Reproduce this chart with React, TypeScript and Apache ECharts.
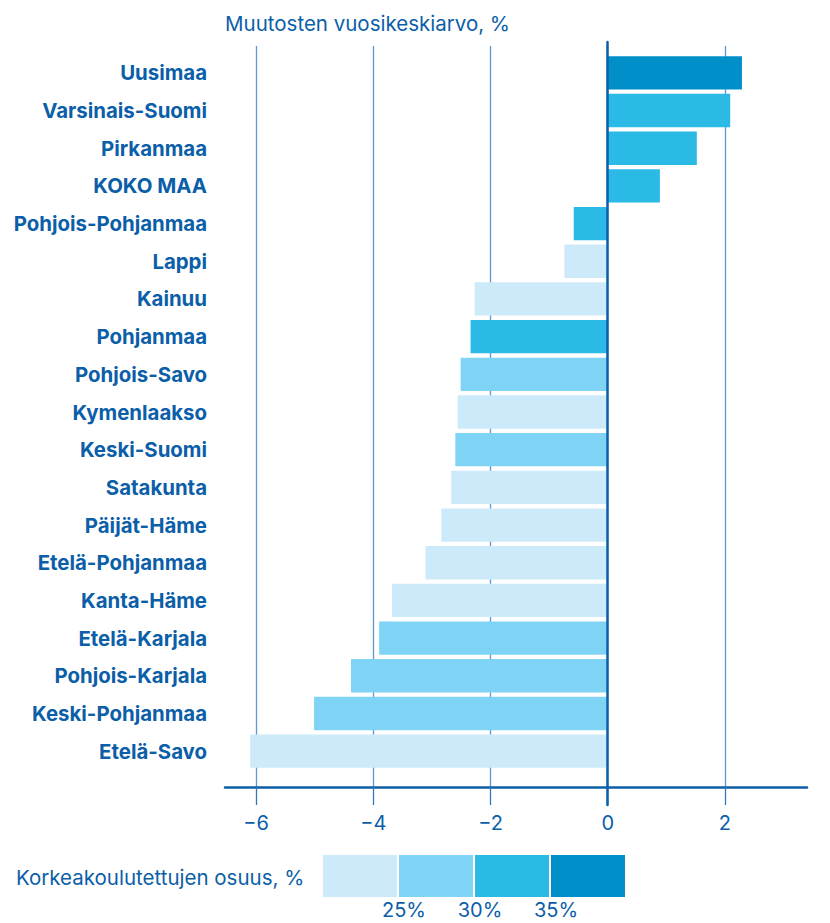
import React, { useEffect, useRef } from "react";
import * as echarts from "echarts";

const regions = [
  "Uusimaa", "Varsinais-Suomi", "Pirkanmaa", "KOKO MAA", "Pohjois-Pohjanmaa", "Lappi",
  "Kainuu", "Pohjanmaa", "Pohjois-Savo", "Kymenlaakso", "Keski-Suomi", "Satakunta",
  "Päijät-Häme", "Etelä-Pohjanmaa", "Kanta-Häme", "Etelä-Karjala", "Pohjois-Karjala",
  "Keski-Pohjanmaa", "Etelä-Savo",
];
const changes = [
  2.29, 2.09, 1.52, 0.89, -0.58, -0.74, -2.27, -2.34, -2.51, -2.56, -2.6, -2.67,
  -2.84, -3.11, -3.68, -3.9, -4.38, -5.01, -6.1,
];
// education class index: 0 = <25%, 1 = 25–30%, 2 = 30–35%, 3 = >35%
const eduClass = [3, 2, 2, 2, 2, 0, 0, 2, 1, 0, 1, 0, 0, 0, 0, 1, 1, 1, 0];
const classColors = ["#cdeafa", "#7fd3f5", "#2bbae6", "#008fc9"];
const legendLabels = ["25%", "30%", "35%"];
const xTicks = [-6, -4, -2, 0, 2];

const TEXT = "#0b5ea8";
const FONT = "Inter, 'Noto Sans', sans-serif";

export default function App() {
  const ref = useRef<HTMLDivElement>(null);
  useEffect(() => {
    document.body.style.margin = "0";
    const chart = echarts.init(ref.current!, null, { renderer: "svg" });
    const xMin = -6.53;
    const xMax = 3.4;
    const legendX = 323;
    const legendW = 76;
    const legendGraphics: any[] = [];
    classColors.forEach((c, i) => {
      legendGraphics.push({
        type: "rect",
        shape: { x: legendX + i * legendW, y: 855, width: legendW - 2, height: 42 },
        style: { fill: c },
      });
    });
    legendLabels.forEach((t, i) => {
      legendGraphics.push({
        type: "text",
        x: legendX + (i + 1) * legendW + 5,
        y: 910,
        style: { text: t, fill: TEXT, font: `20px ${FONT}`, align: "center", verticalAlign: "middle" },
      });
    });
    legendGraphics.push({
      type: "text",
      x: 16,
      y: 877,
      style: { text: "Korkeakoulutettujen osuus, %", fill: TEXT, font: `20.5px ${FONT}`, align: "left", verticalAlign: "middle" },
    });
    legendGraphics.push({
      type: "text",
      x: 225,
      y: 23,
      style: { text: "Muutosten vuosikeskiarvo, %", fill: TEXT, font: `20.5px ${FONT}`, align: "left", verticalAlign: "middle" },
    });

    chart.setOption({
      animation: false,
      textStyle: { fontFamily: FONT },
      grid: [
        { left: 225, right: 23, top: 54, height: 716 },
        { left: 225, right: 23, top: 46, bottom: 136 },
        { left: 225, right: 23, top: 42, bottom: 118 },
      ],
      xAxis: [
        {
          gridIndex: 0, type: "value", min: xMin, max: xMax,
          axisLine: { show: false }, axisTick: { show: false }, axisLabel: { show: false }, splitLine: { show: false },
        },
        {
          gridIndex: 1, type: "value", min: xMin, max: xMax,
          axisLine: { show: true, onZero: false, lineStyle: { color: "#0b5ea8", width: 2.5 } },
          axisTick: { show: true, length: 18, lineStyle: { color: "#2f78c0", width: 1.3 }, customValues: xTicks },
          axisLabel: {
            show: true, margin: 26, fontSize: 20, color: TEXT, fontFamily: FONT,
            customValues: xTicks,
            formatter: (v: number) => (v < 0 ? "\u2212" + Math.abs(v) : String(v)),
          },
          splitLine: { show: true, lineStyle: { color: "#5e98d2", width: 1.3 } },
          interval: 2,
        },
        {
          gridIndex: 2, type: "value", min: xMin, max: xMax, show: false,
        },
      ],
      yAxis: [
        {
          gridIndex: 0, type: "category", data: regions, inverse: true,
          axisLine: { show: false }, axisTick: { show: false },
          axisLabel: { fontSize: 20.4, fontWeight: "bold", color: TEXT, margin: 18, fontFamily: FONT },
        },
        {
          gridIndex: 1, type: "category", data: ["a"], show: false,
        },
        {
          gridIndex: 2, type: "category", data: ["a"],
          axisLine: { show: true, onZero: true, lineStyle: { color: "#0b5ea8", width: 2.5 } },
          axisTick: { show: false }, axisLabel: { show: false }, z: 10,
        },
      ],
      series: [
        {
          type: "bar", xAxisIndex: 0, yAxisIndex: 0,
          barCategoryGap: "11.5%",
          data: changes.map((v, i) => ({ value: v, itemStyle: { color: classColors[eduClass[i]] } })),
          z: 3,
        },
        { type: "line", xAxisIndex: 1, yAxisIndex: 1, data: [] },
        { type: "line", xAxisIndex: 2, yAxisIndex: 2, data: [] },
      ],
      graphic: legendGraphics,
    });
    return () => chart.dispose();
  }, []);
  return <div ref={ref} style={{ width: 830, height: 923 }} />;
}
